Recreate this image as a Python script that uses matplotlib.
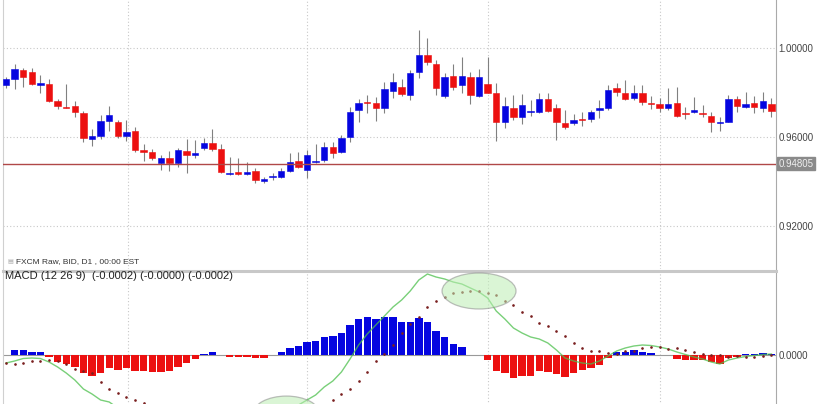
import numpy as np
import matplotlib
matplotlib.use('Agg')
import matplotlib.pyplot as plt
from matplotlib.patches import Ellipse

plt.rcParams['font.family'] = ['Liberation Sans', 'DejaVu Sans']

# daily candles (90 sessions)
opens = [0.9834, 0.9861, 0.9900, 0.9892, 0.9834, 0.9840, 0.9762, 0.9735, 0.9740, 0.9709,
         0.9591, 0.9606, 0.9672, 0.9668, 0.9605, 0.9629, 0.9543, 0.9533, 0.9485, 0.9506,
         0.9484, 0.9538, 0.9520, 0.9551, 0.9572, 0.9545, 0.9434, 0.9445, 0.9436, 0.9448,
         0.9403, 0.9422, 0.9419, 0.9449, 0.9494, 0.9452, 0.9488, 0.9497, 0.9554, 0.9534,
         0.9599, 0.9722, 0.9758, 0.9752, 0.9729, 0.9808, 0.9825, 0.9789, 0.9891, 0.9969,
         0.9928, 0.9786, 0.9876, 0.9833, 0.9871, 0.9786, 0.9837, 0.9797, 0.9666, 0.9732,
         0.9689, 0.9714, 0.9714, 0.9771, 0.9729, 0.9662, 0.9665, 0.9680, 0.9680, 0.9722,
         0.9729, 0.9822, 0.9797, 0.9774, 0.9797, 0.9752, 0.9747, 0.9732, 0.9754, 0.9708,
         0.9711, 0.9707, 0.9696, 0.9662, 0.9669, 0.9770, 0.9736, 0.9752, 0.9732, 0.9747]
highs = [0.9871, 0.9927, 0.9912, 0.9909, 0.9879, 0.9859, 0.9771, 0.9838, 0.9763, 0.9718,
         0.9636, 0.9699, 0.9741, 0.9677, 0.9675, 0.9644, 0.9569, 0.9545, 0.9521, 0.9536,
         0.9552, 0.9591, 0.9587, 0.9596, 0.9635, 0.9569, 0.9512, 0.9505, 0.9489, 0.9460,
         0.9422, 0.9437, 0.9463, 0.9527, 0.9534, 0.9542, 0.9569, 0.9579, 0.9579, 0.9609,
         0.9736, 0.9771, 0.9789, 0.9781, 0.9849, 0.9886, 0.9861, 0.9901, 1.0081, 1.0044,
         0.9946, 0.9886, 0.9927, 0.9958, 0.9894, 0.9904, 0.9961, 0.9842, 0.9781, 0.9789,
         0.9793, 0.9767, 0.9797, 0.9797, 0.9747, 0.9722, 0.9702, 0.9714, 0.9722, 0.9767,
         0.9834, 0.9842, 0.9856, 0.9834, 0.9834, 0.9784, 0.9777, 0.9819, 0.9826, 0.9736,
         0.9781, 0.9744, 0.9711, 0.9692, 0.9789, 0.9786, 0.9804, 0.9786, 0.9801, 0.9777]
lows = [0.9822, 0.9815, 0.9826, 0.9834, 0.9797, 0.9759, 0.9726, 0.9729, 0.9692, 0.9577,
        0.9561, 0.9591, 0.9627, 0.9597, 0.9582, 0.9534, 0.9493, 0.9498, 0.9452, 0.9449,
        0.9467, 0.9437, 0.9505, 0.9542, 0.9538, 0.9437, 0.9432, 0.9430, 0.9430, 0.9393,
        0.9393, 0.9407, 0.9415, 0.9445, 0.9460, 0.9415, 0.9485, 0.9489, 0.9505, 0.9530,
        0.9579, 0.9669, 0.9709, 0.9672, 0.9707, 0.9774, 0.9786, 0.9767, 0.9864, 0.9924,
        0.9789, 0.9777, 0.9811, 0.9797, 0.9747, 0.9781, 0.9797, 0.9582, 0.9639, 0.9677,
        0.9657, 0.9696, 0.9707, 0.9711, 0.9587, 0.9636, 0.9654, 0.9651, 0.9669, 0.9684,
        0.9722, 0.9786, 0.9767, 0.9767, 0.9744, 0.9726, 0.9711, 0.9722, 0.9692, 0.9681,
        0.9707, 0.9692, 0.9621, 0.9627, 0.9666, 0.9711, 0.9729, 0.9707, 0.9711, 0.9692]
closes = [0.9859, 0.9904, 0.9868, 0.9840, 0.9843, 0.9763, 0.9738, 0.9732, 0.9711, 0.9595,
          0.9604, 0.9672, 0.9698, 0.9604, 0.9624, 0.9542, 0.9533, 0.9506, 0.9506, 0.9484,
          0.9541, 0.9520, 0.9530, 0.9575, 0.9545, 0.9442, 0.9440, 0.9436, 0.9445, 0.9406,
          0.9412, 0.9427, 0.9449, 0.9489, 0.9467, 0.9520, 0.9494, 0.9554, 0.9530, 0.9597,
          0.9714, 0.9754, 0.9752, 0.9729, 0.9815, 0.9846, 0.9793, 0.9889, 0.9969, 0.9936,
          0.9822, 0.9871, 0.9826, 0.9876, 0.9789, 0.9871, 0.9799, 0.9666, 0.9740, 0.9689,
          0.9744, 0.9718, 0.9771, 0.9717, 0.9666, 0.9644, 0.9677, 0.9675, 0.9711, 0.9729,
          0.9811, 0.9804, 0.9771, 0.9797, 0.9756, 0.9747, 0.9729, 0.9747, 0.9696, 0.9704,
          0.9722, 0.9702, 0.9669, 0.9669, 0.9770, 0.9741, 0.9749, 0.9734, 0.9762, 0.9717]

# MACD (12 26 9), in units of 1e-4
macd_line = [-8, -6, -3.5, -3, -3.5, -7, -12, -18, -25, -34,
             -39, -45, -47, -53, -55, -61, -64, -67, -69, -70,
             -68, -66, -63, -60, -56, -58, -60, -60, -60, -61,
             -61, -59, -56, -52, -50, -45, -40, -32, -26, -17,
             -4, 10, 21, 30, 39, 48, 55, 64, 75, 81,
             78, 76, 73, 71, 67, 63, 57, 44, 36, 27,
             22, 18, 16, 12, 5, -3, -6, -8, -9, -6,
             -1, 4, 7, 9, 10, 9.5, 8, 6, 3, 0.5,
             -2, -4, -7, -9, -5, -3, -1.5, -0.5, 0.5, 1]
macd_signal = [-8, -9, -8, -6.2, -6.2, -4.7, -5.5, -8.7, -13.5, -15.7,
               -18, -27.3, -33.7, -38, -41.7, -45, -47.7, -49.7, -52.3, -54,
               -56.3, -57.7, -58.7, -59, -59.3, -58.3, -57.7, -58, -58.3, -58,
               -58.3, -58.7, -58.7, -59.3, -59.3, -58, -54, -50, -45, -39,
               -34, -25.7, -17, -5.7, 1, 10, 21.7, 30.7, 38.3, 47.7,
               54, 57.7, 62.3, 63, 64, 64, 62.5, 60, 54.3, 49.7,
               42.7, 38.7, 32, 28.7, 24.3, 18.7, 12.3, 7.3, 4.3, 4,
               1.7, 1.3, 3.7, 3.7, 6.7, 7.8, 7.7, 6.3, 7, 5.2,
               2.7, 1, 0.3, 0, -2.3, -1.3, -2.2, -1.5, -1.2, 0.3]
macd_hist = [0, 4.7, 5.2, 3.2, 2.7, -2.3, -6.5, -9.3, -11.5, -18.3,
             -21, -17.7, -13.3, -15, -13.3, -16, -16.3, -17.3, -16.7, -16,
             -11.7, -8.3, -4.3, 1, 3.3, 0.3, -2.3, -2, -1.7, -3,
             -2.7, -0.3, 2.7, 7.3, 9.3, 13, 14, 18, 19, 22,
             30, 35.7, 38, 35.7, 38, 38, 33.3, 33.3, 36.7, 33.3,
             24, 18.3, 10.7, 8, 0.5, 0, -5.3, -16, -18.3, -22.7,
             -20.7, -20.7, -16, -16.7, -19.3, -21.7, -18.3, -15.3, -13.3, -10,
             -2.7, 2.7, 3.3, 5.3, 3.3, 1.7, 0.3, -0.3, -4, -4.7,
             -4.7, -5, -7.3, -9, -2.7, -1.7, 0.7, 1, 1.7, 0.7]
unit = 1e-4

last_price = 0.94805
price_ticks = [0.92, 0.96, 1.00]
month_starts = [14.15, 35, 56, 76]
highlight_idx = [55, 32.6]   # circled signal-line areas

BLUE = '#0505e0'
RED = '#ec1010'
GRID = '#c8c8c8'

n = len(opens)
x = np.arange(n)
o = np.array(opens); h = np.array(highs); l = np.array(lows); c = np.array(closes)
up = c >= o

fig = plt.figure(figsize=(8.17, 4.04), dpi=100)
left, width = 3 / 817, 773 / 817
ax = fig.add_axes([left, 135 / 404, width, 269 / 404])
# MACD panel runs past the bottom edge of the picture (the chart is cropped there)
ax2 = fig.add_axes([left, -40 / 404, width, 173 / 404])
visible_bottom = -49  # lowest MACD value (1e-4) still inside the picture

# ---- price panel
for xv in month_starts:
    ax.axvline(xv, color=GRID, lw=0.8, ls=(0, (1, 2)), zorder=0)
for yv in price_ticks:
    ax.axhline(yv, color=GRID, lw=0.8, ls=(0, (1, 2)), zorder=0)

ax.vlines(x, l, h, color='#808080', lw=0.8, zorder=2)
body_lo = np.minimum(o, c)
body_h = np.maximum(np.abs(c - o), 0.00012)
cols = np.where(up, BLUE, RED)
ax.bar(x, body_h, bottom=body_lo, width=0.74, color=cols, edgecolor=cols, lw=0.4, zorder=3)

ax.axhline(last_price, color='#b04848', lw=1.0, zorder=4)

ax.set_xlim(-0.35, 89.53)
ax.set_ylim(0.90077, 1.02155)
ax.yaxis.tick_right()
ax.set_yticks(price_ticks)
ax.set_yticklabels([f'{v:.5f}' for v in price_ticks])
ax.tick_params(axis='y', length=0, pad=2, labelsize=7, labelcolor='#444444')
ax.set_xticks([])
for s in ['top', 'bottom']:
    ax.spines[s].set_visible(False)
ax.spines['left'].set_color('#d0d0d0')
ax.spines['right'].set_color('#aaaaaa')

ax.text(1.003, last_price, f'{last_price:.5f}', transform=ax.get_yaxis_transform(),
        va='center', ha='left', fontsize=7, color='#eeeeee',
        bbox=dict(boxstyle='square,pad=0.15', fc='#8a8a8a', ec='#8a8a8a'))
ax.text(0.0168, 0.026, 'FXCM Raw, BID, D1 , 00:00 EST', transform=ax.transAxes,
        fontsize=6, color='#333333', va='center', ha='left')
ax.text(0.006, 0.026, '\u25a4', transform=ax.transAxes, fontsize=4.5,
        color='#aaaaaa', va='center', ha='left')

# ---- MACD panel
for xv in month_starts:
    ax2.axvline(xv, color=GRID, lw=0.8, ls=(0, (1, 2)), zorder=0)
ax2.axhline(0, color='#999999', lw=0.8, zorder=1)

hist = np.array(macd_hist) * unit
ax2.bar(x, hist, width=0.86, color=np.where(hist >= 0, BLUE, RED), lw=0, zorder=2)

# hide the stretch of the MACD line that lies wholly below the cropped edge
m = np.array(macd_line, dtype=float)
below = m < visible_bottom
hidden = below & np.r_[True, below[:-1]] & np.r_[below[1:], True]
m_draw = np.ma.masked_where(hidden, m) * unit
ax2.plot(x, m_draw, color='#4cc04c', lw=1.0, alpha=0.75, zorder=3)
ax2.plot(x, np.array(macd_signal) * unit, ls='none', marker='o', ms=0.9,
         color='#7a2020', zorder=4)

for i, wdt in zip(highlight_idx, [8.6, 7.8]):
    sig = np.interp(i, x, macd_signal) * unit
    ax2.add_patch(Ellipse((i, sig), wdt, 36 * unit, fc='#bdeeb4', ec='#8a8a8a',
                          lw=0.9, alpha=0.55, zorder=5))

ax2.set_xlim(-0.35, 89.53)
ax2.set_ylim(-89 * unit, 84 * unit)
ax2.yaxis.tick_right()
ax2.set_yticks([0])
ax2.set_yticklabels(['0.0000'])
ax2.tick_params(axis='y', length=0, pad=2, labelsize=7, labelcolor='#444444')
ax2.set_xticks([])
ax2.spines['bottom'].set_visible(False)
ax2.spines['top'].set_color('#c8c8c8')
ax2.spines['top'].set_linewidth(2.2)
ax2.spines['left'].set_color('#d0d0d0')
ax2.spines['right'].set_color('#aaaaaa')

ax2.text(0.002, 1 - 5 / 173, 'MACD (12 26 9)  (-0.0002) (-0.0000) (-0.0002)',
         transform=ax2.transAxes, fontsize=8, color='#222222', va='center', ha='left')

fig.savefig('out.png', dpi=100)
